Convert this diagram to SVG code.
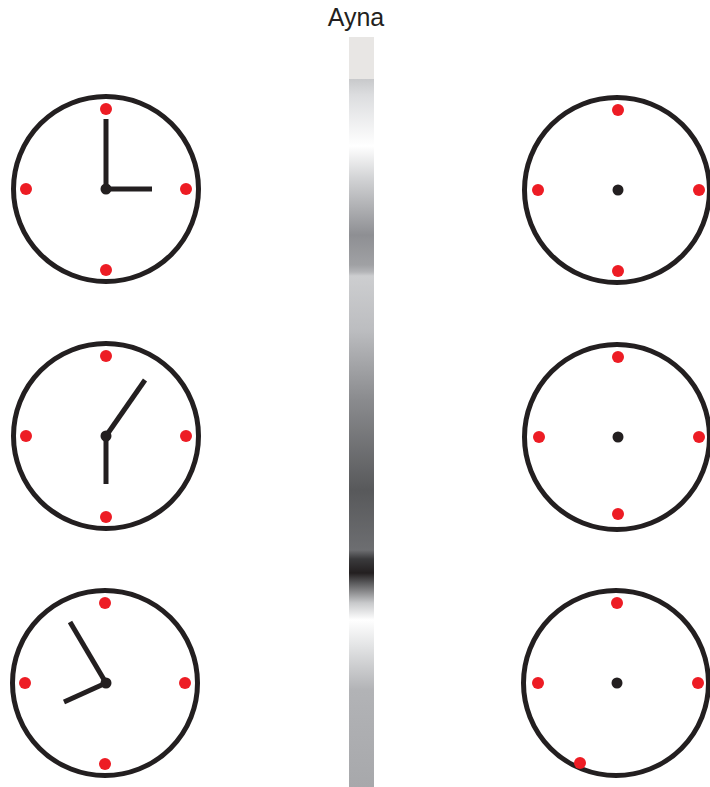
<svg xmlns="http://www.w3.org/2000/svg" width="710" height="787" viewBox="0 0 710 787">
<defs>
<style>
.face{fill:#fff;stroke:#231F20;stroke-width:5}
.mark{fill:#ED1C24}
.hub{fill:#231F20}
.hand{stroke:#231F20;stroke-width:5;fill:none;stroke-linecap:butt}
.title{font-family:"Liberation Sans",Arial,sans-serif;font-size:25px;fill:#231F20}
</style>
<linearGradient id="mirror" x1="0" y1="79" x2="0" y2="787" gradientUnits="userSpaceOnUse">
<stop offset="0" stop-color="#C8C9CB"/>
<stop offset="0.0226" stop-color="#DCDDDF"/>
<stop offset="0.0946" stop-color="#FFFFFF"/>
<stop offset="0.1427" stop-color="#D0D1D3"/>
<stop offset="0.2203" stop-color="#8E8F93"/>
<stop offset="0.2627" stop-color="#A0A1A4"/>
<stop offset="0.2726" stop-color="#B4B5B8"/>
<stop offset="0.2782" stop-color="#CDCED0"/>
<stop offset="0.3545" stop-color="#BCBDC0"/>
<stop offset="0.4534" stop-color="#8A8B8E"/>
<stop offset="0.5805" stop-color="#58595B"/>
<stop offset="0.6653" stop-color="#6D6E71"/>
<stop offset="0.6780" stop-color="#3A3A3C"/>
<stop offset="0.6977" stop-color="#231F20"/>
<stop offset="0.7118" stop-color="#5A5A5C"/>
<stop offset="0.7401" stop-color="#C8C9CB"/>
<stop offset="0.7641" stop-color="#FFFFFF"/>
<stop offset="0.7994" stop-color="#E4E5E6"/>
<stop offset="0.8630" stop-color="#B2B3B6"/>
<stop offset="1" stop-color="#A7A8AB"/>
</linearGradient>
</defs>
<rect width="710" height="787" fill="#fff"/>

<g id="mirror-bar">
<text class="title" x="356" y="26" text-anchor="middle">Ayna</text>
<rect x="349" y="37" width="25" height="42" fill="#E8E6E4"/>
<rect x="349" y="79" width="25" height="708" fill="url(#mirror)"/>
</g>

<g id="clock-left-1">
<circle class="face" cx="106" cy="189" r="92.5"/>
<circle class="mark" cx="106" cy="109" r="6"/>
<circle class="mark" cx="106" cy="270" r="6"/>
<circle class="mark" cx="26" cy="189" r="6"/>
<circle class="mark" cx="186" cy="189" r="6"/>
<line class="hand" x1="106" y1="189" x2="106" y2="119"/>
<line class="hand" x1="106" y1="189" x2="152" y2="189"/>
<circle class="hub" cx="106" cy="189" r="5.5"/>
</g>

<g id="clock-left-2">
<circle class="face" cx="106" cy="436" r="92.5"/>
<circle class="mark" cx="106" cy="356" r="6"/>
<circle class="mark" cx="106" cy="517" r="6"/>
<circle class="mark" cx="26" cy="436" r="6"/>
<circle class="mark" cx="186" cy="436" r="6"/>
<line class="hand" x1="106" y1="436" x2="145" y2="380"/>
<line class="hand" x1="106" y1="436" x2="106" y2="484"/>
<circle class="hub" cx="106" cy="436" r="5.5"/>
</g>

<g id="clock-left-3">
<circle class="face" cx="105" cy="683" r="92.5"/>
<circle class="mark" cx="105" cy="603" r="6"/>
<circle class="mark" cx="105" cy="764" r="6"/>
<circle class="mark" cx="25" cy="683" r="6"/>
<circle class="mark" cx="185" cy="683" r="6"/>
<line class="hand" x1="106" y1="683" x2="70" y2="622"/>
<line class="hand" x1="106" y1="683" x2="64" y2="702"/>
<circle class="hub" cx="106" cy="683" r="5.5"/>
</g>

<g id="clock-right-1">
<circle class="face" cx="617" cy="190" r="92.5"/>
<circle class="mark" cx="618" cy="110" r="6"/>
<circle class="mark" cx="618" cy="271" r="6"/>
<circle class="mark" cx="538" cy="190" r="6"/>
<circle class="mark" cx="699" cy="190" r="6"/>
<circle class="hub" cx="618" cy="190" r="5.5"/>
</g>

<g id="clock-right-2">
<circle class="face" cx="617" cy="437" r="92.5"/>
<circle class="mark" cx="618" cy="357" r="6"/>
<circle class="mark" cx="618" cy="514" r="6"/>
<circle class="mark" cx="539" cy="437" r="6"/>
<circle class="mark" cx="699" cy="437" r="6"/>
<circle class="hub" cx="618" cy="437" r="5.5"/>
</g>

<g id="clock-right-3">
<circle class="face" cx="616" cy="683" r="92.5"/>
<circle class="mark" cx="617" cy="603" r="6"/>
<circle class="mark" cx="580" cy="763" r="6"/>
<circle class="mark" cx="538" cy="683" r="6"/>
<circle class="mark" cx="698" cy="683" r="6"/>
<circle class="hub" cx="617" cy="683" r="5.5"/>
</g>

<g id="connectors"/>
</svg>
